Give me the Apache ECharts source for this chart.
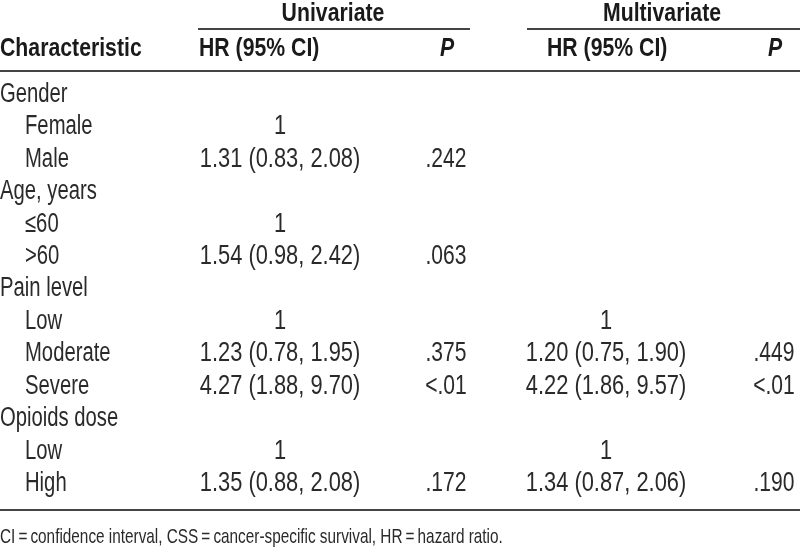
<!DOCTYPE html>
<html>
<head>
<meta charset="utf-8">
<script src="https://cdn.jsdelivr.net/npm/echarts@6/dist/echarts.min.js"></script>
<style>
  html, body { margin: 0; background: #fff; }
  #main { width: 800px; height: 550px; }
</style>
</head>
<body>
<div id="main"></div>
<script>
// table content
const rowLabels = ['Gender', 'Female', 'Male', 'Age, years', '\u226460', '>60', 'Pain level', 'Low', 'Moderate', 'Severe', 'Opioids dose', 'Low', 'High']
const rowLevel = [0, 1, 1, 0, 1, 1, 0, 1, 1, 1, 0, 1, 1]
const uniHR = ['', '1', '1.31 (0.83, 2.08)', '', '1', '1.54 (0.98, 2.42)', '', '1', '1.23 (0.78, 1.95)', '4.27 (1.88, 9.70)', '', '1', '1.35 (0.88, 2.08)']
const uniP = ['', '', '.242', '', '', '.063', '', '', '.375', '<.01', '', '', '.172']
const multiHR = ['', '', '', '', '', '', '', '1', '1.20 (0.75, 1.90)', '4.22 (1.86, 9.57)', '', '1', '1.34 (0.87, 2.06)']
const multiP = ['', '', '', '', '', '', '', '', '.449', '<.01', '', '', '.190']
const groupHeaders = ['Univariate', 'Multivariate']
const colHeaders = ['Characteristic', 'HR (95% CI)', 'P', 'HR (95% CI)', 'P']
const footnote = 'CI\u2009=\u2009confidence interval, CSS\u2009=\u2009cancer-specific survival, HR\u2009=\u2009hazard ratio.'

const font = "'Liberation Sans', Arial, sans-serif"
const textColor = '#2a2a2a'
const headColor = '#1a1a1a'
const ruleColor = '#444'

let myChart = echarts.init(document.getElementById('main'))

// one custom series per column, text placed on the row axis
// squeeze: horizontal scale to mimic the condensed face of the original
function textSeries (values, xOf, align, squeeze) {
  let data = []
  values.forEach((v, i) => {
    if (v) data.push([xOf(i), i])
  })
  return {
    type: 'custom',
    silent: true,
    encode: { x: 0, y: 1 },
    data: data,
    renderItem: function (params, api) {
      let row = api.value(1)
      let p = api.coord([api.value(0), row])
      return {
        type: 'text',
        x: p[0],
        y: p[1],
        scaleX: squeeze,
        style: {
          text: values[row],
          align: align,
          verticalAlign: 'middle',
          fill: textColor,
          fontFamily: font,
          fontSize: 27
        }
      }
    }
  }
}

function headText (text, x, y, align, extra) {
  return {
    type: 'text',
    x: x,
    y: y,
    scaleX: 0.85,
    style: Object.assign({
      text: text,
      align: align,
      verticalAlign: 'middle',
      fill: headColor,
      fontFamily: font,
      fontWeight: 'bold',
      fontSize: 25
    }, extra || {})
  }
}

function rule (x1, x2, y) {
  return {
    type: 'line',
    shape: { x1: x1, y1: y, x2: x2, y2: y },
    style: { stroke: ruleColor, lineWidth: 2 }
  }
}

let option = {
  animation: false,
  backgroundColor: '#fff',
  grid: { left: 0, right: 0, top: 78, height: 422 },
  xAxis: { type: 'value', min: 0, max: 800, show: false },
  yAxis: {
    type: 'category',
    inverse: true,
    data: rowLabels,
    show: false
  },
  graphic: [
    headText(groupHeaders[0], 333, 14, 'center'),
    headText(groupHeaders[1], 662, 14, 'center'),
    rule(198, 470, 29),
    rule(527, 800, 29),
    headText(colHeaders[0], 0, 49, 'left'),
    headText(colHeaders[1], 199, 49, 'left'),
    headText(colHeaders[2], 447, 49, 'center', { fontStyle: 'italic' }),
    headText(colHeaders[3], 547, 49, 'left'),
    headText(colHeaders[4], 775, 49, 'center', { fontStyle: 'italic' }),
    rule(0, 800, 71),
    rule(0, 800, 510),
    {
      type: 'text',
      x: 0,
      y: 537,
      scaleX: 0.73,
      style: {
        text: footnote,
        align: 'left',
        verticalAlign: 'middle',
        fill: textColor,
        fontFamily: font,
        fontSize: 21
      }
    }
  ],
  series: [
    textSeries(rowLabels, i => (rowLevel[i] ? 25 : 0), 'left', 0.75),
    textSeries(uniHR, i => 280, 'center', 0.81),
    textSeries(uniP, i => 446, 'center', 0.78),
    textSeries(multiHR, i => 606, 'center', 0.81),
    textSeries(multiP, i => 774, 'center', 0.78)
  ]
}

myChart.setOption(option)
</script>
</body>
</html>
